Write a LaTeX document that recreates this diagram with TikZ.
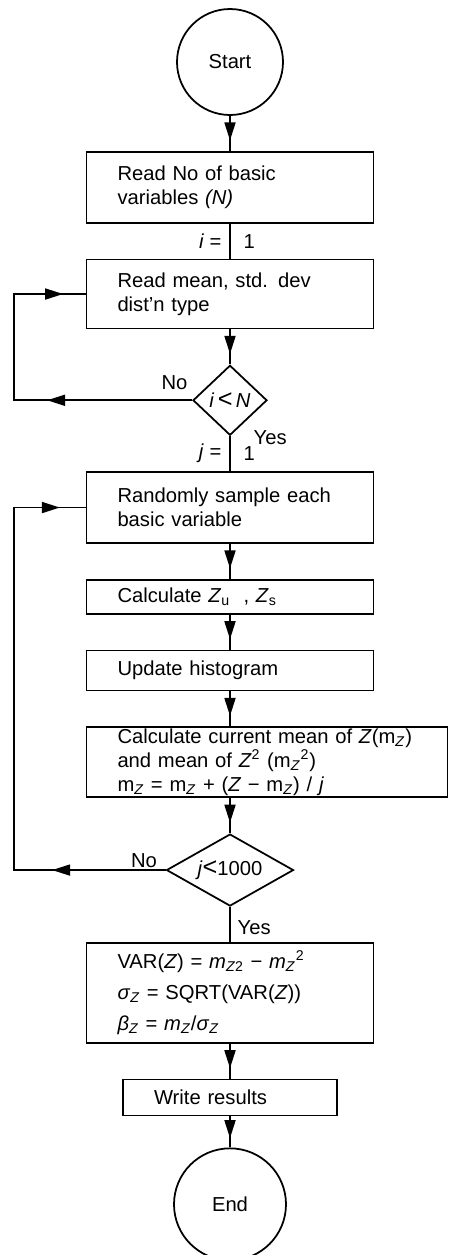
\documentclass[tikz,border=0pt]{standalone}
\usepackage{fontspec}
\setmainfont{Liberation Sans}
\usepackage{tikz}
\usetikzlibrary{shapes.geometric, arrows.meta, positioning, calc, decorations.markings}
\tikzstyle{startstop} = [circle, draw=black, line width=1pt, minimum size=2.12cm, inner sep=0pt]
\tikzstyle{process} = [rectangle, draw=black, line width=1pt, align=left, inner xsep=0.62cm, inner ysep=0pt, text width=4.5cm]
\tikzstyle{decision} = [diamond, draw=black, line width=1pt, inner sep=0pt]
\tikzstyle{arrow} = [line width=1pt, postaction={decorate}, decoration={markings, mark=at position 0.7 with {\arrow{>}}}]
\tikzstyle{plain} = [line width=1pt]
\tikzstyle{lbl} = [inner sep=1pt]
\tikzset{backline/.style 2 args={line width=1pt, postaction={decorate}, decoration={markings, mark=at position #1 with {\arrow{>}}, mark=at position #2 with {\arrow{>}}}}}

\begin{document}
\begin{tikzpicture}[>={Triangle[length=3.6mm,width=2.2mm]}, font=\fontsize{11.5}{13.7}\selectfont, node distance=0.7cm]
    \useasboundingbox (0,0) rectangle (8.98,-25.1);

    % Input
    \node (start) [startstop] at (4.6,-1.24) {Start};
    \node (read) [process, below=of start, minimum height=1.42cm] {Read No of basic\\variables \textit{(N)}};
    \node (readvar) [process, below=of read, minimum height=1.38cm] {Read mean, std. dev\\dist'n type};
    \node (checki) [decision, below=of readvar, minimum width=1.48cm, minimum height=1.4cm, aspect=1.06] {\textit{i}\,{\Large<}\,\textit{N}};

    % Simulation loop
    \node (sample) [process, below=of checki, minimum height=1.42cm] {Randomly sample each\\basic variable};
    \node (calcz) [process, below=of sample, minimum height=0.68cm] {Calculate \textit{Z}\textsubscript{u}\ \ ,\ \textit{Z}\textsubscript{s}};
    \node (hist) [process, below=of calcz, minimum height=0.8cm] {Update histogram};
    \node (mean) [process, text width=5.98cm, minimum height=1.4cm, below=of hist.south west, anchor=north west] {Calculate current mean of \textit{Z}(m\textsubscript{\textit{Z}})\\and mean of \textit{Z}\textsuperscript{2} (m\textsubscript{\textit{Z}}\textsuperscript{2})\\m\textsubscript{\textit{Z}} = m\textsubscript{\textit{Z}} + (\textit{Z} − m\textsubscript{\textit{Z}}) / \textit{j}};
    \coordinate (c6) at (mean.south -| hist.south);
    \node (checkj) [decision, below=of c6, minimum width=2.54cm, minimum height=1.44cm, aspect=1.76] {\textit{j}{\Large<}1000};

    % Output
    \node (stats) [process, below=of checkj, minimum height=2.0cm] {VAR(\textit{Z}) = \textit{m}\textsubscript{\textit{Z}2} − \textit{m}\textsubscript{\textit{Z}}\textsuperscript{2}\\[4pt]\textit{σ}\textsubscript{\textit{Z}} = SQRT(VAR(\textit{Z}))\\[4pt]\textit{β}\textsubscript{\textit{Z}} = \textit{m}\textsubscript{\textit{Z}}/\textit{σ}\textsubscript{\textit{Z}}};
    \node (write) [process, text width=3.04cm, minimum height=0.72cm, below=of stats] {Write results};
    \node (finish) [startstop, minimum size=2.24cm, below=0.62cm of write] {End};

    % Connectors
    \draw[arrow] (start) -- (read);
    \draw[plain] (read) -- node[lbl, left=0.12cm] {\textit{i} =} node[lbl, right=0.22cm] {1} (readvar);
    \draw[arrow] (readvar) -- (checki);
    \draw[plain] (checki) -- node[lbl, pos=0.05, right=0.42cm] {Yes} node[lbl, left=0.12cm] {\textit{j} =} node[lbl, right=0.22cm] {1} (sample);
    \draw[arrow] (sample) -- (calcz);
    \draw[arrow] (calcz) -- (hist);
    \draw[arrow] (hist) -- (hist |- mean.north);
    \draw[arrow] (c6) -- (checkj);
    \draw[plain] (checkj) -- node[lbl, pos=0.6, right=0.1cm] {Yes} (stats);
    \draw[arrow] (stats) -- (write);
    \draw[arrow] (write) -- (finish);

    % Loops back
    \coordinate (lx) at (0.28,0);
    \draw[backline={2.9cm}{6.67cm}] (checki.west) node[lbl, above left=0.15cm and 0.04cm] {No} -- (checki.west -| lx) |- (readvar.west);
    \draw[backline={2.27cm}{11.2cm}] (checkj.west) node[lbl, above left=0cm and 0.12cm] {No} -- (checkj.west -| lx) |- (sample.west);
\end{tikzpicture}
\end{document}
